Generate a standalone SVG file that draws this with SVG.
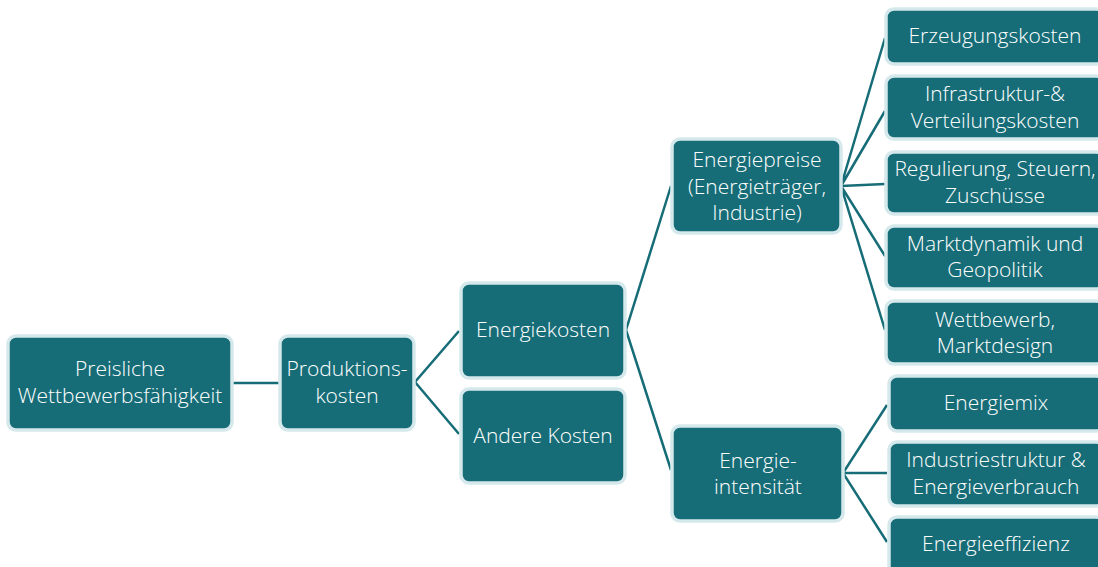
<svg xmlns="http://www.w3.org/2000/svg" width="1098" height="567" viewBox="0 0 1098 567">
  <style>
    .box { fill: #176d77; stroke: #d5e9ec; stroke-width: 3.5; }
    .lbl { fill: #ffffff; font-family: "Open Sans", "Liberation Sans", sans-serif; font-size: 21px; font-weight: 300; text-anchor: middle; }
    .con { stroke: #176d77; stroke-width: 2.5; fill: none; }
  </style>
  <rect width="1098" height="567" fill="#ffffff"/>

  <!-- connectors -->
  <g id="connectors">
    <line class="con" x1="233" y1="383" x2="280" y2="383"/>
    <polyline class="con" points="459,331 415,382 459,434"/>
    <polyline class="con" points="671,186 626,330 671,470"/>
    <polyline class="con" points="885,38 841,186 885,111"/>
    <line class="con" x1="841" y1="186" x2="885" y2="184"/>
    <polyline class="con" points="885,256 841,186 885,330"/>
    <polyline class="con" points="887,405 843,473 887,542"/>
    <line class="con" x1="843" y1="473" x2="887" y2="473"/>
  </g>

  <g id="node-preisliche">
    <rect class="box" x="8" y="336" width="224" height="94" rx="8"/>
    <text class="lbl" x="120" y="376">Preisliche</text>
    <text class="lbl" x="120" y="403">Wettbewerbsfähigkeit</text>
  </g>

  <g id="node-produktion">
    <rect class="box" x="280" y="336" width="134" height="94" rx="8"/>
    <text class="lbl" x="347" y="376">Produktions-</text>
    <text class="lbl" x="347" y="403">kosten</text>
  </g>

  <g id="node-energiekosten">
    <rect class="box" x="461" y="283" width="164" height="95" rx="8"/>
    <text class="lbl" x="543" y="337">Energiekosten</text>
  </g>

  <g id="node-andere">
    <rect class="box" x="461" y="389" width="164" height="94" rx="8"/>
    <text class="lbl" x="543" y="443">Andere Kosten</text>
  </g>

  <g id="node-energiepreise">
    <rect class="box" x="672" y="139" width="169" height="94" rx="8"/>
    <text class="lbl" x="757" y="167">Energiepreise</text>
    <text class="lbl" x="757" y="194">(Energieträger,</text>
    <text class="lbl" x="757" y="220">Industrie)</text>
  </g>

  <g id="node-energieintensitaet">
    <rect class="box" x="672" y="426" width="171" height="95" rx="8"/>
    <text class="lbl" x="758" y="468">Energie-</text>
    <text class="lbl" x="758" y="494">intensität</text>
  </g>

  <g id="node-erzeugung">
    <rect class="box" x="886" y="9" width="218" height="55" rx="8"/>
    <text class="lbl" x="995" y="43">Erzeugungskosten</text>
  </g>

  <g id="node-infrastruktur">
    <rect class="box" x="886" y="76" width="218" height="63" rx="8"/>
    <text class="lbl" x="995" y="101">Infrastruktur-&amp;</text>
    <text class="lbl" x="995" y="128">Verteilungskosten</text>
  </g>

  <g id="node-regulierung">
    <rect class="box" x="886" y="152" width="218" height="62" rx="8"/>
    <text class="lbl" x="995" y="176">Regulierung, Steuern,</text>
    <text class="lbl" x="995" y="203">Zuschüsse</text>
  </g>

  <g id="node-marktdynamik">
    <rect class="box" x="886" y="226" width="218" height="63" rx="8"/>
    <text class="lbl" x="995" y="251">Marktdynamik und</text>
    <text class="lbl" x="995" y="277">Geopolitik</text>
  </g>

  <g id="node-wettbewerb">
    <rect class="box" x="886" y="301" width="218" height="63" rx="8"/>
    <text class="lbl" x="995" y="327">Wettbewerb,</text>
    <text class="lbl" x="995" y="353">Marktdesign</text>
  </g>

  <g id="node-energiemix">
    <rect class="box" x="889" y="376" width="215" height="55" rx="8"/>
    <text class="lbl" x="996" y="410">Energiemix</text>
  </g>

  <g id="node-industriestruktur">
    <rect class="box" x="889" y="442" width="215" height="64" rx="8"/>
    <text class="lbl" x="996" y="467">Industriestruktur &amp;</text>
    <text class="lbl" x="996" y="494">Energieverbrauch</text>
  </g>

  <g id="node-energieeffizienz">
    <rect class="box" x="889" y="517" width="215" height="60" rx="8"/>
    <text class="lbl" x="996" y="551">Energieeffizienz</text>
  </g>
</svg>
